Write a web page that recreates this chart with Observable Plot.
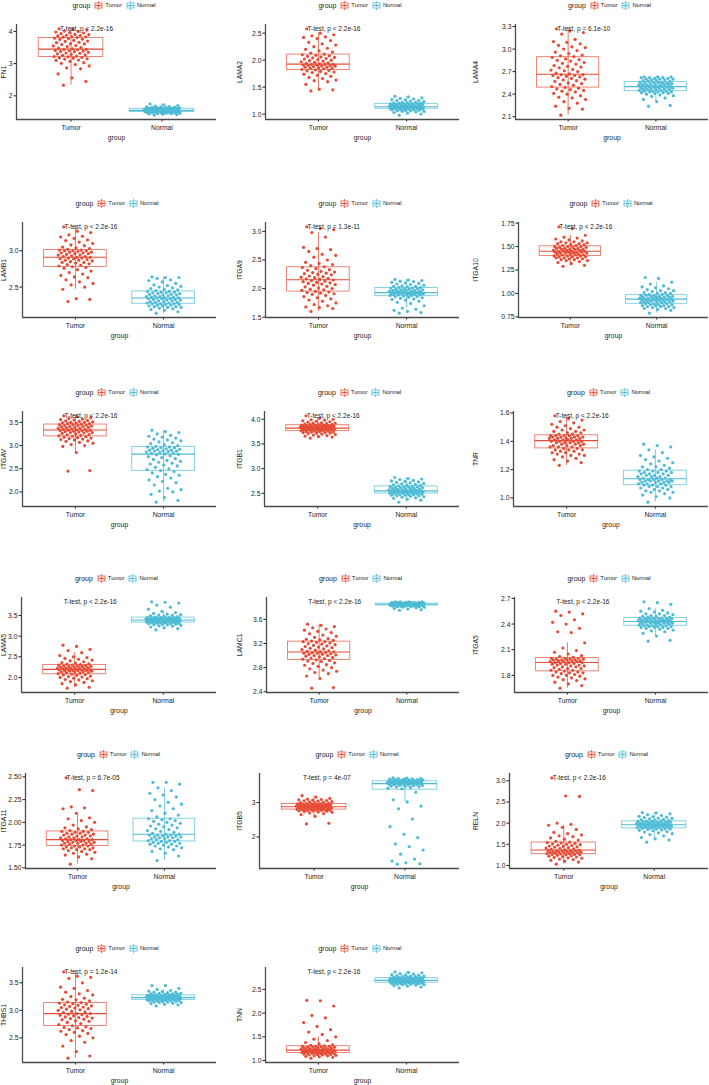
<!DOCTYPE html>
<html><head><meta charset="utf-8">
<script src="https://cdn.jsdelivr.net/npm/d3@7"></script>
<script src="https://cdn.jsdelivr.net/npm/@observablehq/plot@0.6"></script>
<style>
body{margin:0;background:#fff;}
#fig{position:relative;width:709px;height:1085px;overflow:hidden;font-family:"Liberation Sans",Arial,sans-serif;color:#1a1a1a;}
.panel{position:absolute;}
.legend{position:absolute;top:0;height:13px;display:flex;justify-content:center;align-items:center;white-space:nowrap;color:#1a1a1a;}
.legend .ttl{font-size:7px;margin-right:4px;}
.legend .itm{font-size:5.8px;margin:0 4px 0 2px;}
.legend svg{display:block;}
.panel svg.plot{position:absolute;left:0;top:13px;overflow:visible;}
</style></head><body><div id="fig"></div>
<script>
const groups = ["Tumor", "Normal"];
const groupColors = ["#E64B35", "#4DBBD5"];
const genes = ["FN1","LAMA2","LAMA4","LAMB1","ITGA9","ITGA10","ITGAV","ITGB1","TNR","LAMA5","LAMC1","ITGA5","ITGA11","ITGB5","RELN","THBS1","TNN"];
const pLabels = ["T-test, p < 2.2e-16","T-test, p < 2.2e-16","T-test, p = 6.1e-10","T-test, p < 2.2e-16","T-test, p = 1.3e-11","T-test, p < 2.2e-16","T-test, p < 2.2e-16","T-test, p < 2.2e-16","T-test, p < 2.2e-16","T-test, p < 2.2e-16","T-test, p < 2.2e-16","T-test, p < 2.2e-16","T-test, p = 6.7e-05","T-test, p = 4e-07","T-test, p < 2.2e-16","T-test, p = 1.2e-14","T-test, p < 2.2e-16"];
const yTickLabels = [
 ["2","3","4"],["1.0","1.5","2.0","2.5"],["2.1","2.4","2.7","3.0","3.3"],
 ["2.5","3.0"],["1.5","2.0","2.5","3.0"],["0.75","1.00","1.25","1.50","1.75"],
 ["2.0","2.5","3.0","3.5"],["2.5","3.0","3.5","4.0"],["1.0","1.2","1.4","1.6"],
 ["2.0","2.5","3.0","3.5"],["2.4","2.8","3.2","3.6"],["1.8","2.1","2.4","2.7"],
 ["1.50","1.75","2.00","2.25","2.50"],["2","3"],["1.0","1.5","2.0","2.5","3.0"],
 ["2.5","3.0","3.5"],["1.0","1.5","2.0","2.5"]];

const FN1_tumor = [2.33,2.45,2.56,2.68,2.84,2.87,2.93,2.97,3.01,3.03,3.07,3.1,3.11,3.14,3.15,3.17,3.18,3.19,3.21,3.22,3.23,3.26,3.27,3.29,3.3,3.32,3.33,3.35,3.37,3.38,3.39,3.4,3.41,3.43,3.44,3.44,3.46,3.48,3.5,3.53,3.55,3.56,3.59,3.61,3.62,3.65,3.66,3.69,3.7,3.72,3.75,3.76,3.78,3.79,3.81,3.82,3.83,3.84,3.86,3.87,3.88,3.9,3.91,3.93,3.95,3.96,3.98,4.0,4.01,4.04,4.06,4.08];
const FN1_normal = [1.40,1.42,1.43,1.44,1.45,1.45,1.46,1.46,1.47,1.47,1.48,1.48,1.48,1.49,1.49,1.49,1.5,1.5,1.5,1.51,1.51,1.51,1.52,1.52,1.52,1.53,1.53,1.53,1.54,1.54,1.54,1.54,1.55,1.55,1.55,1.55,1.55,1.56,1.56,1.56,1.57,1.57,1.57,1.58,1.58,1.58,1.58,1.59,1.59,1.59,1.6,1.6,1.6,1.6,1.6,1.61,1.61,1.62,1.62,1.62,1.63,1.63,1.64,1.64,1.65,1.65,1.66,1.67,1.68,1.7,1.72,1.75];
const LAMA2_tumor = [1.43,1.45,1.46,1.55,1.6,1.62,1.63,1.66,1.68,1.7,1.72,1.74,1.75,1.77,1.78,1.79,1.8,1.81,1.82,1.83,1.84,1.85,1.85,1.86,1.87,1.87,1.88,1.89,1.89,1.9,1.9,1.91,1.91,1.92,1.92,1.92,1.93,1.94,1.95,1.96,1.97,1.98,1.99,2.0,2.01,2.02,2.03,2.04,2.05,2.06,2.07,2.08,2.09,2.1,2.11,2.13,2.15,2.17,2.2,2.22,2.25,2.28,2.3,2.33,2.36,2.4,2.42,2.43,2.45,2.47,2.5,2.58];
const LAMA2_normal = [0.98,1.0,1.02,1.03,1.04,1.05,1.05,1.06,1.06,1.07,1.07,1.08,1.08,1.08,1.09,1.09,1.1,1.1,1.1,1.1,1.11,1.11,1.11,1.11,1.12,1.12,1.12,1.12,1.12,1.13,1.13,1.13,1.13,1.13,1.13,1.13,1.14,1.14,1.14,1.15,1.15,1.15,1.16,1.16,1.16,1.17,1.17,1.17,1.18,1.18,1.18,1.19,1.19,1.19,1.19,1.2,1.2,1.21,1.21,1.22,1.22,1.23,1.24,1.25,1.25,1.26,1.27,1.28,1.29,1.3,1.32,1.33];
const LAMA4_tumor = [2.12,2.2,2.21,2.24,2.28,2.3,2.33,2.35,2.36,2.38,2.4,2.41,2.43,2.44,2.45,2.46,2.47,2.48,2.49,2.5,2.52,2.53,2.54,2.55,2.57,2.58,2.59,2.6,2.61,2.62,2.63,2.64,2.65,2.65,2.66,2.66,2.67,2.68,2.7,2.71,2.72,2.73,2.75,2.76,2.77,2.78,2.8,2.81,2.82,2.84,2.85,2.86,2.87,2.89,2.9,2.91,2.92,2.94,2.96,2.98,3.0,3.02,3.03,3.05,3.07,3.09,3.1,3.13,3.2,3.22,3.24,3.27];
const LAMA4_normal = [2.24,2.25,2.3,2.33,2.35,2.37,2.38,2.39,2.4,2.41,2.41,2.42,2.42,2.43,2.43,2.43,2.44,2.44,2.44,2.45,2.45,2.46,2.46,2.46,2.47,2.47,2.47,2.48,2.48,2.48,2.49,2.49,2.49,2.5,2.5,2.5,2.5,2.51,2.51,2.51,2.52,2.52,2.52,2.53,2.53,2.53,2.54,2.54,2.54,2.55,2.55,2.55,2.56,2.56,2.56,2.57,2.57,2.58,2.58,2.59,2.59,2.6,2.6,2.6,2.61,2.61,2.62,2.62,2.62,2.63,2.63,2.63];
const LAMB1_tumor = [2.3,2.33,2.34,2.47,2.5,2.53,2.55,2.57,2.6,2.63,2.64,2.66,2.68,2.7,2.72,2.74,2.76,2.77,2.78,2.79,2.8,2.81,2.82,2.83,2.84,2.84,2.85,2.86,2.87,2.87,2.88,2.89,2.89,2.9,2.9,2.91,2.91,2.92,2.92,2.93,2.94,2.94,2.95,2.96,2.96,2.97,2.97,2.98,2.98,2.99,3.0,3.0,3.0,3.01,3.01,3.02,3.03,3.04,3.05,3.07,3.08,3.1,3.12,3.14,3.15,3.17,3.19,3.2,3.22,3.25,3.27,3.33];
const LAMB1_normal = [2.14,2.16,2.18,2.19,2.2,2.21,2.22,2.22,2.23,2.23,2.24,2.24,2.25,2.25,2.26,2.26,2.27,2.27,2.27,2.28,2.28,2.29,2.29,2.3,2.3,2.31,2.31,2.32,2.32,2.33,2.33,2.34,2.34,2.34,2.35,2.35,2.35,2.36,2.36,2.37,2.37,2.38,2.38,2.39,2.39,2.4,2.4,2.41,2.41,2.42,2.42,2.43,2.43,2.44,2.44,2.45,2.46,2.47,2.48,2.49,2.5,2.51,2.52,2.53,2.55,2.57,2.59,2.6,2.62,2.63,2.63,2.64];
const ITGA9_tumor = [1.6,1.65,1.67,1.68,1.7,1.72,1.75,1.78,1.8,1.82,1.84,1.86,1.88,1.9,1.91,1.92,1.93,1.94,1.95,1.97,1.98,1.99,2.0,2.01,2.03,2.04,2.06,2.07,2.08,2.09,2.1,2.11,2.12,2.13,2.14,2.15,2.16,2.17,2.18,2.19,2.2,2.21,2.22,2.24,2.25,2.26,2.27,2.28,2.29,2.3,2.32,2.33,2.35,2.37,2.38,2.4,2.42,2.44,2.46,2.5,2.55,2.58,2.6,2.65,2.68,2.7,2.72,2.9,2.98,3.03,3.05,3.08];
const ITGA9_normal = [1.57,1.58,1.6,1.62,1.64,1.66,1.7,1.74,1.76,1.78,1.8,1.81,1.82,1.83,1.84,1.85,1.86,1.86,1.87,1.88,1.88,1.89,1.89,1.9,1.9,1.9,1.91,1.91,1.91,1.92,1.92,1.92,1.92,1.93,1.93,1.93,1.93,1.94,1.94,1.95,1.95,1.95,1.96,1.96,1.97,1.97,1.97,1.98,1.98,1.99,1.99,2.0,2.0,2.01,2.01,2.02,2.02,2.03,2.04,2.04,2.05,2.06,2.07,2.08,2.09,2.1,2.11,2.12,2.13,2.14,2.15,2.16];
const ITGA10_tumor = [1.29,1.3,1.32,1.33,1.34,1.35,1.35,1.36,1.36,1.37,1.37,1.38,1.38,1.38,1.39,1.39,1.39,1.4,1.4,1.4,1.41,1.41,1.41,1.42,1.42,1.42,1.43,1.43,1.43,1.43,1.44,1.44,1.44,1.44,1.45,1.45,1.45,1.45,1.46,1.46,1.46,1.47,1.47,1.47,1.47,1.48,1.48,1.48,1.49,1.49,1.49,1.5,1.5,1.5,1.51,1.51,1.52,1.52,1.53,1.53,1.54,1.54,1.55,1.55,1.56,1.57,1.58,1.59,1.6,1.62,1.69,1.71];
const ITGA10_normal = [0.79,0.82,0.83,0.84,0.84,0.85,0.85,0.86,0.86,0.86,0.87,0.87,0.87,0.88,0.88,0.88,0.89,0.89,0.89,0.9,0.9,0.9,0.91,0.91,0.91,0.91,0.92,0.92,0.92,0.92,0.93,0.93,0.93,0.93,0.93,0.94,0.94,0.94,0.94,0.95,0.95,0.95,0.95,0.96,0.96,0.96,0.96,0.97,0.97,0.97,0.98,0.98,0.98,0.98,0.99,0.99,1.0,1.0,1.01,1.01,1.02,1.03,1.03,1.04,1.05,1.06,1.07,1.08,1.1,1.12,1.16,1.17];
const ITGAV_tumor = [2.45,2.46,2.85,2.98,3.0,3.02,3.05,3.07,3.09,3.1,3.12,3.13,3.14,3.15,3.16,3.17,3.18,3.19,3.2,3.21,3.22,3.23,3.24,3.25,3.26,3.27,3.28,3.28,3.29,3.3,3.31,3.31,3.32,3.32,3.33,3.33,3.34,3.35,3.35,3.36,3.37,3.37,3.38,3.39,3.39,3.4,3.41,3.41,3.42,3.43,3.43,3.44,3.45,3.45,3.46,3.47,3.47,3.48,3.49,3.5,3.5,3.51,3.52,3.53,3.54,3.55,3.56,3.57,3.58,3.6,3.62,3.64];
const ITGAV_normal = [1.78,1.82,1.88,1.95,2.0,2.02,2.05,2.08,2.15,2.2,2.23,2.26,2.3,2.33,2.36,2.38,2.41,2.44,2.46,2.48,2.5,2.53,2.56,2.58,2.6,2.62,2.64,2.66,2.68,2.7,2.72,2.74,2.76,2.78,2.8,2.81,2.82,2.83,2.84,2.85,2.86,2.87,2.88,2.88,2.89,2.9,2.9,2.91,2.92,2.93,2.94,2.95,2.96,2.97,2.97,2.98,3.0,3.02,3.04,3.06,3.08,3.1,3.12,3.14,3.16,3.18,3.2,3.22,3.25,3.28,3.3,3.33];
const ITGB1_tumor = [3.62,3.64,3.65,3.66,3.67,3.68,3.69,3.7,3.71,3.72,3.72,3.73,3.73,3.74,3.74,3.75,3.75,3.76,3.76,3.77,3.77,3.78,3.78,3.78,3.79,3.79,3.79,3.8,3.8,3.8,3.81,3.81,3.81,3.82,3.82,3.82,3.82,3.83,3.83,3.83,3.84,3.84,3.84,3.85,3.85,3.85,3.86,3.86,3.86,3.87,3.87,3.87,3.88,3.88,3.88,3.89,3.89,3.9,3.9,3.91,3.92,3.92,3.93,3.94,3.95,3.96,3.97,3.98,3.99,4.0,4.02,4.07];
const ITGB1_normal = [2.32,2.36,2.38,2.4,2.41,2.42,2.43,2.44,2.45,2.45,2.46,2.46,2.47,2.47,2.48,2.48,2.49,2.49,2.5,2.5,2.51,2.51,2.51,2.52,2.52,2.52,2.53,2.53,2.53,2.54,2.54,2.54,2.54,2.55,2.55,2.55,2.55,2.56,2.56,2.57,2.57,2.58,2.58,2.59,2.59,2.6,2.6,2.61,2.61,2.62,2.62,2.63,2.63,2.64,2.64,2.65,2.66,2.66,2.67,2.68,2.69,2.7,2.71,2.72,2.73,2.74,2.75,2.76,2.78,2.79,2.8,2.82];
const TNR_tumor = [1.23,1.25,1.26,1.27,1.28,1.29,1.3,1.3,1.31,1.31,1.32,1.32,1.33,1.33,1.34,1.34,1.34,1.35,1.35,1.36,1.36,1.36,1.37,1.37,1.37,1.38,1.38,1.38,1.39,1.39,1.39,1.39,1.4,1.4,1.4,1.4,1.41,1.41,1.41,1.41,1.42,1.42,1.42,1.42,1.42,1.43,1.43,1.43,1.43,1.44,1.44,1.44,1.44,1.44,1.45,1.45,1.46,1.46,1.47,1.47,1.48,1.48,1.49,1.5,1.5,1.51,1.52,1.53,1.54,1.55,1.56,1.58];
const TNR_normal = [0.97,1.0,1.01,1.02,1.03,1.04,1.04,1.05,1.05,1.06,1.06,1.07,1.07,1.08,1.08,1.08,1.09,1.09,1.09,1.1,1.1,1.1,1.11,1.11,1.11,1.11,1.12,1.12,1.12,1.12,1.12,1.13,1.13,1.13,1.13,1.13,1.14,1.14,1.14,1.15,1.15,1.15,1.16,1.16,1.16,1.17,1.17,1.17,1.18,1.18,1.18,1.19,1.19,1.19,1.2,1.2,1.21,1.22,1.22,1.23,1.24,1.25,1.26,1.27,1.28,1.29,1.3,1.32,1.34,1.36,1.37,1.38];
const LAMA5_tumor = [1.74,1.76,1.82,1.85,1.88,1.9,1.92,1.94,1.95,1.97,1.98,2.0,2.01,2.02,2.03,2.05,2.06,2.07,2.08,2.09,2.1,2.11,2.12,2.13,2.13,2.14,2.15,2.15,2.16,2.16,2.17,2.17,2.18,2.18,2.19,2.19,2.2,2.21,2.21,2.22,2.22,2.23,2.23,2.24,2.25,2.25,2.26,2.26,2.27,2.28,2.28,2.29,2.3,2.3,2.31,2.32,2.33,2.35,2.36,2.38,2.4,2.42,2.44,2.46,2.48,2.5,2.53,2.6,2.65,2.68,2.75,2.78];
const LAMA5_normal = [3.15,3.18,3.2,3.22,3.24,3.25,3.26,3.27,3.28,3.29,3.29,3.3,3.3,3.31,3.31,3.32,3.32,3.33,3.33,3.34,3.34,3.35,3.35,3.35,3.36,3.36,3.36,3.37,3.37,3.37,3.38,3.38,3.38,3.39,3.39,3.39,3.39,3.4,3.4,3.4,3.41,3.41,3.41,3.42,3.42,3.42,3.43,3.43,3.43,3.44,3.44,3.44,3.45,3.45,3.45,3.46,3.47,3.48,3.49,3.5,3.51,3.52,3.53,3.55,3.57,3.6,3.65,3.7,3.75,3.8,3.82,3.83];
const LAMC1_tumor = [2.46,2.47,2.62,2.66,2.7,2.72,2.74,2.76,2.78,2.8,2.82,2.84,2.85,2.87,2.88,2.9,2.91,2.92,2.93,2.94,2.95,2.96,2.97,2.98,2.99,3.0,3.0,3.01,3.02,3.02,3.03,3.04,3.04,3.05,3.05,3.06,3.06,3.07,3.08,3.09,3.1,3.11,3.12,3.13,3.14,3.15,3.16,3.17,3.18,3.19,3.2,3.21,3.22,3.23,3.23,3.24,3.25,3.26,3.27,3.28,3.3,3.32,3.34,3.36,3.38,3.4,3.42,3.44,3.46,3.48,3.5,3.52];
const LAMC1_normal = [3.75,3.76,3.77,3.78,3.79,3.8,3.8,3.81,3.81,3.81,3.82,3.82,3.82,3.82,3.83,3.83,3.83,3.83,3.83,3.83,3.84,3.84,3.84,3.84,3.84,3.84,3.84,3.84,3.84,3.84,3.84,3.85,3.85,3.85,3.85,3.85,3.85,3.85,3.85,3.85,3.85,3.85,3.85,3.86,3.86,3.86,3.86,3.86,3.86,3.86,3.86,3.86,3.86,3.86,3.86,3.87,3.87,3.87,3.87,3.87,3.87,3.87,3.88,3.88,3.88,3.88,3.88,3.88,3.89,3.89,3.89,3.89];
const ITGA5_tumor = [1.65,1.68,1.7,1.72,1.74,1.75,1.76,1.77,1.78,1.79,1.8,1.8,1.81,1.82,1.83,1.83,1.84,1.84,1.85,1.86,1.86,1.87,1.88,1.88,1.89,1.9,1.9,1.91,1.91,1.92,1.92,1.93,1.93,1.94,1.94,1.95,1.95,1.95,1.96,1.96,1.96,1.97,1.97,1.97,1.98,1.98,1.98,1.98,1.99,1.99,1.99,2.0,2.0,2.0,2.01,2.02,2.03,2.05,2.07,2.09,2.12,2.18,2.3,2.31,2.35,2.4,2.42,2.45,2.5,2.52,2.54,2.55];
const ITGA5_normal = [2.2,2.21,2.26,2.29,2.31,2.32,2.33,2.34,2.35,2.35,2.36,2.36,2.36,2.37,2.37,2.37,2.38,2.38,2.38,2.39,2.39,2.39,2.4,2.4,2.4,2.41,2.41,2.41,2.41,2.42,2.42,2.42,2.42,2.43,2.43,2.43,2.43,2.43,2.44,2.44,2.44,2.44,2.45,2.45,2.45,2.45,2.45,2.46,2.46,2.46,2.46,2.47,2.47,2.47,2.47,2.48,2.48,2.49,2.49,2.5,2.5,2.51,2.52,2.52,2.53,2.54,2.55,2.56,2.58,2.63,2.65,2.66];
const ITGA11_tumor = [1.54,1.6,1.62,1.64,1.65,1.66,1.67,1.68,1.69,1.7,1.7,1.71,1.71,1.72,1.72,1.73,1.73,1.74,1.74,1.75,1.75,1.76,1.76,1.77,1.77,1.77,1.78,1.78,1.79,1.79,1.79,1.8,1.8,1.8,1.81,1.81,1.81,1.82,1.82,1.83,1.83,1.84,1.84,1.85,1.85,1.86,1.86,1.87,1.87,1.88,1.88,1.89,1.89,1.9,1.9,1.91,1.92,1.93,1.94,1.95,1.97,2.0,2.02,2.04,2.05,2.1,2.15,2.16,2.17,2.35,2.36,2.49];
const ITGA11_normal = [1.58,1.63,1.66,1.68,1.7,1.71,1.72,1.73,1.74,1.74,1.75,1.76,1.76,1.77,1.77,1.78,1.78,1.79,1.79,1.8,1.8,1.81,1.81,1.82,1.82,1.83,1.83,1.84,1.84,1.84,1.85,1.85,1.86,1.86,1.86,1.87,1.87,1.88,1.89,1.9,1.91,1.92,1.93,1.94,1.95,1.96,1.97,1.98,1.99,2.0,2.01,2.02,2.03,2.04,2.04,2.06,2.08,2.1,2.13,2.15,2.18,2.2,2.22,2.25,2.28,2.3,2.32,2.35,2.38,2.42,2.44,2.44];
const ITGB5_tumor = [2.38,2.4,2.6,2.65,2.68,2.7,2.72,2.73,2.74,2.75,2.76,2.76,2.77,2.77,2.78,2.78,2.79,2.79,2.8,2.8,2.81,2.81,2.82,2.82,2.83,2.83,2.84,2.84,2.85,2.85,2.86,2.86,2.87,2.87,2.87,2.88,2.88,2.89,2.89,2.9,2.9,2.91,2.91,2.92,2.92,2.93,2.93,2.93,2.94,2.94,2.95,2.95,2.96,2.96,2.96,2.97,2.98,2.99,3.0,3.01,3.02,3.03,3.04,3.05,3.06,3.07,3.08,3.09,3.1,3.12,3.16,3.2];
const ITGB5_normal = [1.21,1.22,1.25,1.3,1.36,1.5,1.62,1.72,1.8,1.98,2.08,2.3,2.52,2.82,2.9,3.02,3.08,3.3,3.4,3.42,3.44,3.45,3.46,3.47,3.48,3.49,3.5,3.5,3.51,3.52,3.52,3.53,3.53,3.54,3.54,3.55,3.55,3.56,3.56,3.57,3.57,3.58,3.58,3.58,3.59,3.59,3.6,3.6,3.6,3.61,3.61,3.61,3.62,3.62,3.62,3.63,3.63,3.64,3.64,3.65,3.65,3.66,3.66,3.67,3.67,3.68,3.68,3.69,3.7,3.7,3.71,3.72];
const RELN_tumor = [1.03,1.08,1.1,1.12,1.14,1.15,1.17,1.18,1.19,1.2,1.21,1.22,1.23,1.24,1.25,1.25,1.26,1.26,1.27,1.28,1.28,1.29,1.3,1.3,1.31,1.31,1.32,1.32,1.33,1.33,1.34,1.34,1.35,1.35,1.35,1.36,1.37,1.38,1.39,1.4,1.41,1.42,1.43,1.44,1.45,1.46,1.47,1.48,1.49,1.5,1.51,1.52,1.53,1.54,1.55,1.57,1.6,1.62,1.65,1.68,1.7,1.72,1.75,1.78,1.85,1.9,1.95,1.97,2.0,2.63,2.64,3.07];
const RELN_normal = [1.55,1.6,1.63,1.66,1.7,1.73,1.75,1.77,1.79,1.8,1.82,1.83,1.84,1.85,1.86,1.86,1.87,1.87,1.88,1.89,1.89,1.9,1.9,1.91,1.91,1.92,1.92,1.93,1.93,1.93,1.94,1.94,1.95,1.95,1.95,1.96,1.96,1.97,1.97,1.98,1.98,1.99,1.99,2.0,2.0,2.0,2.01,2.01,2.02,2.02,2.03,2.03,2.04,2.04,2.05,2.05,2.06,2.07,2.08,2.09,2.1,2.11,2.12,2.13,2.14,2.15,2.16,2.18,2.2,2.22,2.24,2.25];
const THBS1_tumor = [2.13,2.17,2.25,2.35,2.42,2.45,2.5,2.53,2.56,2.58,2.6,2.62,2.63,2.65,2.67,2.68,2.69,2.7,2.72,2.74,2.76,2.78,2.8,2.81,2.83,2.84,2.85,2.86,2.87,2.88,2.89,2.9,2.91,2.92,2.93,2.94,2.94,2.96,2.97,2.98,3.0,3.01,3.02,3.03,3.04,3.05,3.06,3.07,3.08,3.09,3.1,3.11,3.12,3.13,3.14,3.15,3.17,3.19,3.2,3.22,3.25,3.28,3.3,3.33,3.36,3.4,3.42,3.5,3.58,3.6,3.62,3.7];
const THBS1_normal = [3.08,3.1,3.11,3.12,3.13,3.14,3.14,3.15,3.15,3.16,3.16,3.17,3.17,3.17,3.18,3.18,3.18,3.19,3.19,3.19,3.2,3.2,3.2,3.2,3.21,3.21,3.21,3.21,3.22,3.22,3.22,3.22,3.23,3.23,3.23,3.23,3.23,3.24,3.24,3.24,3.24,3.25,3.25,3.25,3.25,3.26,3.26,3.26,3.26,3.27,3.27,3.27,3.27,3.27,3.28,3.28,3.29,3.29,3.3,3.3,3.31,3.31,3.32,3.33,3.33,3.34,3.35,3.36,3.38,3.4,3.45,3.45];
const TNN_tumor = [1.05,1.07,1.08,1.09,1.1,1.1,1.11,1.12,1.12,1.13,1.13,1.14,1.14,1.15,1.15,1.15,1.16,1.16,1.16,1.17,1.17,1.18,1.18,1.18,1.19,1.19,1.19,1.2,1.2,1.2,1.21,1.21,1.21,1.22,1.22,1.22,1.22,1.23,1.23,1.24,1.24,1.25,1.25,1.26,1.26,1.27,1.27,1.28,1.28,1.29,1.29,1.3,1.3,1.3,1.31,1.32,1.33,1.35,1.38,1.42,1.45,1.5,1.55,1.6,1.65,1.72,1.8,1.9,1.95,2.15,2.26,2.27];
const TNN_normal = [2.53,2.55,2.57,2.58,2.59,2.6,2.6,2.61,2.61,2.62,2.62,2.62,2.63,2.63,2.63,2.64,2.64,2.64,2.64,2.65,2.65,2.65,2.66,2.66,2.66,2.67,2.67,2.67,2.67,2.68,2.68,2.68,2.68,2.69,2.69,2.69,2.69,2.7,2.7,2.7,2.7,2.71,2.71,2.71,2.72,2.72,2.72,2.72,2.73,2.73,2.73,2.74,2.74,2.74,2.74,2.75,2.75,2.76,2.76,2.77,2.77,2.78,2.78,2.79,2.8,2.8,2.81,2.82,2.83,2.85,2.86,2.87];

const seriesByGene = {
  FN1:[FN1_tumor,FN1_normal], LAMA2:[LAMA2_tumor,LAMA2_normal], LAMA4:[LAMA4_tumor,LAMA4_normal],
  LAMB1:[LAMB1_tumor,LAMB1_normal], ITGA9:[ITGA9_tumor,ITGA9_normal], ITGA10:[ITGA10_tumor,ITGA10_normal],
  ITGAV:[ITGAV_tumor,ITGAV_normal], ITGB1:[ITGB1_tumor,ITGB1_normal], TNR:[TNR_tumor,TNR_normal],
  LAMA5:[LAMA5_tumor,LAMA5_normal], LAMC1:[LAMC1_tumor,LAMC1_normal], ITGA5:[ITGA5_tumor,ITGA5_normal],
  ITGA11:[ITGA11_tumor,ITGA11_normal], ITGB5:[ITGB5_tumor,ITGB5_normal], RELN:[RELN_tumor,RELN_normal],
  THBS1:[THBS1_tumor,THBS1_normal], TNN:[TNN_tumor,TNN_normal]
};

// ---- layout (not data) ----
const rowTops = [5, 203, 392, 578, 754, 948];
const colLefts = [0, 236, 472];
const colWidths = [236, 236, 237];
const plotRights = [216, 223, 236];
const marginLefts = [16,29,43, 22,29,46, 22,28,41, 21,30,42, 25,23,37, 22,29];
const FONT = '"Liberation Sans",Arial,sans-serif';
const TEXT_SQUEEZE = 0.88;
const jitter = i => ((((i * 0.6180339887) + 0.29) % 1) - 0.5) * 0.4;
const halfBox = 0.355;
const axisColor = "#4a4a4a";

const fig = document.getElementById("fig");

function keySvg(c) {
  return `<svg width="9" height="9" viewBox="0 0 9 9"><rect x="1" y="2" width="7" height="5" fill="none" stroke="${c}" stroke-width="0.8"/><line x1="1" x2="8" y1="4.5" y2="4.5" stroke="${c}" stroke-width="0.8"/><line x1="4.5" x2="4.5" y1="0" y2="2" stroke="${c}" stroke-width="0.8"/><line x1="4.5" x2="4.5" y1="7" y2="9" stroke="${c}" stroke-width="0.8"/><circle cx="4.5" cy="4.5" r="1.3" fill="${c}"/></svg>`;
}

genes.forEach((gene, k) => {
  const row = Math.floor(k / 3), col = k % 3;
  const ml = marginLefts[k];
  const W = colWidths[col];
  const mr = W - plotRights[col];
  const series = seriesByGene[gene];
  const rows = series.flatMap((vals, gi) => vals.map((v, i) => ({group: groups[gi], value: v, jx: gi + 1 + jitter(i)})));
  const stats = series.map((vals, gi) => {
    const s = vals.slice().sort(d3.ascending);
    const q1 = d3.quantile(s, 0.25), med = d3.quantile(s, 0.5), q3 = d3.quantile(s, 0.75);
    const iqr = q3 - q1;
    const lo = d3.min(s.filter(v => v >= q1 - 1.5 * iqr));
    const hi = d3.max(s.filter(v => v <= q3 + 1.5 * iqr));
    return {group: groups[gi], x: gi + 1, x1: gi + 1 - halfBox, x2: gi + 1 + halfBox, q1, med, q3, lo, hi};
  });
  const all = series.flat();
  const [mn, mx] = d3.extent(all);
  const pad = (mx - mn) * 0.05;
  const yDomain = [mn - pad, mx + pad];
  const xDomain = [0.4, 2.6];
  const tickLabs = yTickLabels[k];
  const tickVals = tickLabs.map(Number);

  const panel = document.createElement("div");
  panel.className = "panel";
  panel.style.left = colLefts[col] + "px";
  panel.style.top = (rowTops[row] - 6.5) + "px";
  panel.style.width = W + "px";
  panel.style.height = "140px";

  const legend = document.createElement("div");
  legend.className = "legend";
  legend.style.left = ml + "px";
  legend.style.width = (W - ml - mr) + "px";
  legend.innerHTML = `<span class="ttl">group</span>` +
    groups.map((g, i) => keySvg(groupColors[i]) + `<span class="itm">${g}</span>`).join("");
  panel.appendChild(legend);

  const svg = Plot.plot({
    width: W, height: 132,
    marginLeft: ml, marginRight: mr, marginTop: 12, marginBottom: 25,
    style: {fontFamily: FONT, fontSize: "7.7px", color: "#1a1a1a", background: "transparent", overflow: "visible"},
    x: {domain: xDomain, ticks: [1, 2], tickFormat: d => groups[d - 1], tickSize: 2.5, tickPadding: 2.5,
        label: "group", labelAnchor: "center", labelOffset: 20, labelArrow: "none"},
    y: {domain: yDomain, ticks: tickVals, tickFormat: d => tickLabs[tickVals.indexOf(d)], tickSize: 2.5, tickPadding: 1.5,
        label: gene, labelAnchor: "center", labelOffset: ml, labelArrow: "none"},
    color: {domain: groups, range: groupColors},
    marks: [
      Plot.ruleX([xDomain[0]], {stroke: axisColor, strokeWidth: 1.3}),
      Plot.ruleY([yDomain[0]], {stroke: axisColor, strokeWidth: 1.3}),
      Plot.ruleX(stats, {x: "x", y1: "lo", y2: "hi", stroke: "group", strokeWidth: 0.9, strokeOpacity: 0.85}),
      Plot.rect(stats, {x1: "x1", x2: "x2", y1: "q1", y2: "q3", stroke: "group", fill: "none", strokeWidth: 0.9, strokeOpacity: 0.75}),
      Plot.ruleY(stats, {x1: "x1", x2: "x2", y: "med", stroke: "group", strokeWidth: 1.1}),
      Plot.dot(rows, {x: "jx", y: "value", r: 1.6, fill: "group", stroke: "none"}),
      Plot.text([{x: groups.indexOf("Tumor") + 1, y: mx, label: pLabels[k]}], {x: "x", y: "y", text: "label", textAnchor: "start", dx: -11, fontSize: 7.4, lineAnchor: "middle", fill: "#1a1a1a"})
    ]
  });
  svg.classList.add("plot");
  // emulate the narrow typeface of the original figure: squeeze every text along its baseline
  svg.querySelectorAll("text").forEach(t => {
    const x = parseFloat(t.getAttribute("x")) || 0;
    const tr = t.getAttribute("transform") || "";
    t.setAttribute("transform", `${tr} translate(${x},0) scale(${TEXT_SQUEEZE},1)`);
    if (t.hasAttribute("x")) t.setAttribute("x", 0);
  });
  panel.appendChild(svg);
  fig.appendChild(panel);
});
</script>
</body></html>
